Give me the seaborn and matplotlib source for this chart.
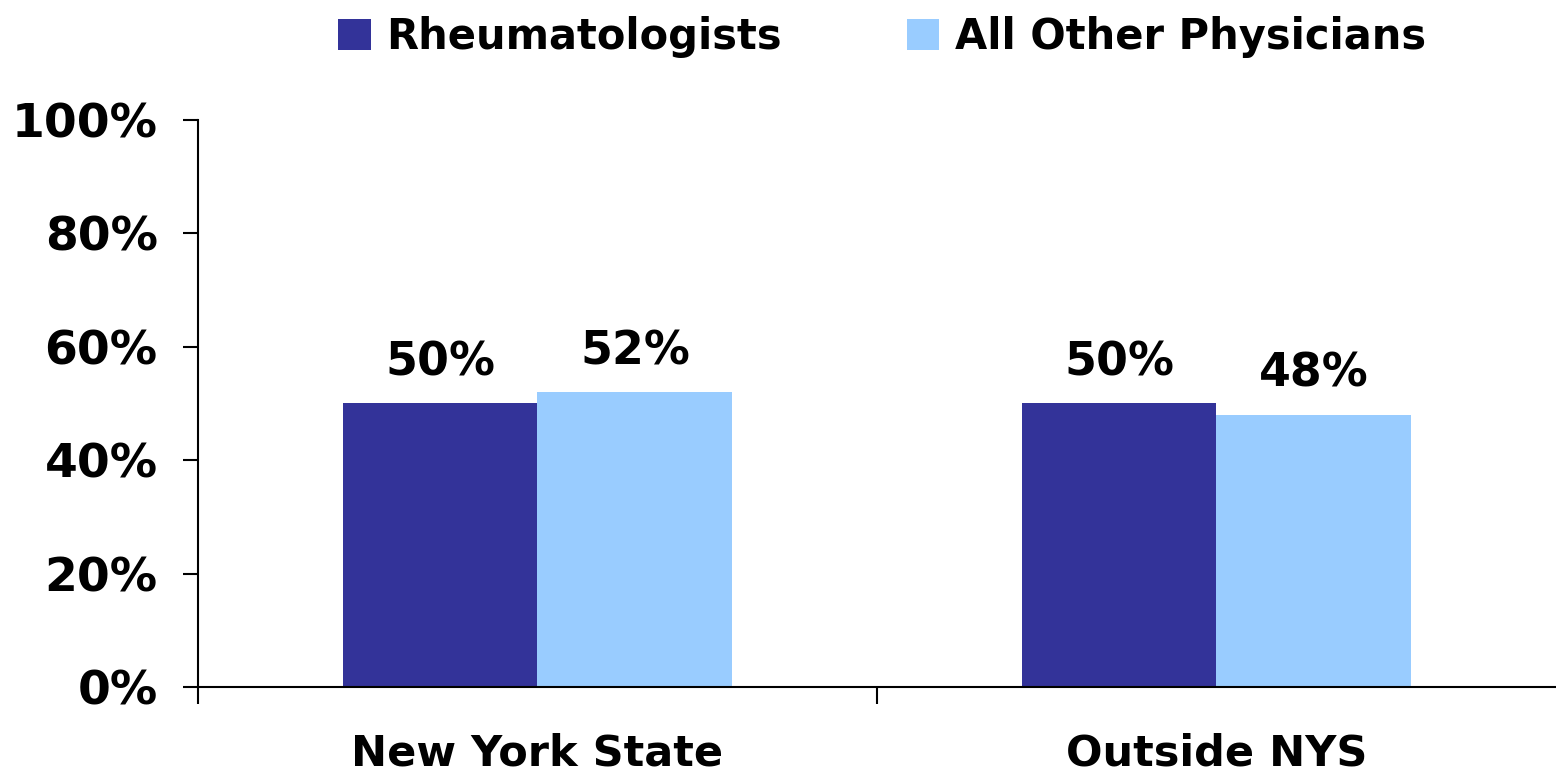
import pandas as pd
import numpy as np
import matplotlib
matplotlib.use('Agg')
import matplotlib.pyplot as plt
import seaborn as sns

regions = ['New York State', 'Outside NYS']
groups = ['Rheumatologists', 'All Other Physicians']
rheum = [50, 50]
others = [52, 48]
colors = ['#333399', '#99CCFF']

df = pd.DataFrame({
    'region': regions * 2,
    'group': [groups[0]] * 2 + [groups[1]] * 2,
    'value': rheum + others,
})

sns.set_theme(style='white')
plt.rcParams['font.family'] = ['DejaVu Sans']
plt.rcParams['font.weight'] = 'bold'
plt.rcParams['text.color'] = 'black'
plt.rcParams['xtick.color'] = 'black'
plt.rcParams['ytick.color'] = 'black'

fig = plt.figure(figsize=(15.56, 7.8), dpi=100)
ax = fig.add_axes([0.1272, 0.1192, 0.8728, 0.727])

sns.barplot(data=df, x='region', y='value', hue='group', hue_order=groups,
            palette=colors, width=0.574, saturation=1, linewidth=0, ax=ax, legend=True)

for c in ax.containers:
    ax.bar_label(c, labels=[f'{v:.0f}%' for v in c.datavalues], padding=13,
                 fontsize=33, fontweight='bold', color='black')

ax.set_xlim(-0.5, 1.5)
ax.set_ylim(0, 100)
ax.set_yticks(range(0, 101, 20))
ax.set_yticklabels([f'{v}%' for v in range(0, 101, 20)], fontsize=34, fontweight='bold')
ax.set_xticks([0, 1])
ax.set_xticklabels(regions, fontsize=31, fontweight='bold')
ax.set_xticks([-0.5, 0.5], minor=True)
ax.tick_params(axis='x', which='major', length=0, pad=33)
ax.tick_params(axis='x', which='minor', length=12, width=1.5, color='black', direction='out', bottom=True)
ax.tick_params(axis='y', length=11, width=1.5, color='black', direction='out', left=True, pad=18)
ax.set_xlabel('')
ax.set_ylabel('')

for s in ['top', 'right']:
    ax.spines[s].set_visible(False)
for s in ['left', 'bottom']:
    ax.spines[s].set_color('black')
    ax.spines[s].set_linewidth(1.5)
ax.spines['left'].set_bounds(0, 100)

ax.legend(loc='center', bbox_to_anchor=(0.567, 0.953), bbox_transform=fig.transFigure,
          ncol=2, frameon=False, handlelength=0.77, handleheight=0.77, handletextpad=0.38,
          columnspacing=3.0, borderpad=0, prop={'size': 30, 'weight': 'bold'})

plt.savefig('out.png', dpi=100)
